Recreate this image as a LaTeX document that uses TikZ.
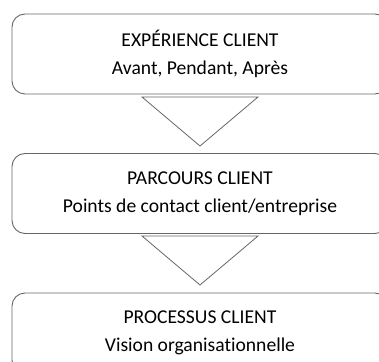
\documentclass[tikz,border=0pt]{standalone}
\usepackage{fontspec}
\setmainfont{Carlito}[Ligatures=NoCommon]
\usepackage{tikz}
\usetikzlibrary{positioning}
\tikzset{
  etape/.style={draw=black!60, line width=0.9pt, rounded corners=13pt,
    minimum width=376pt, minimum height=80pt, inner sep=0pt, align=center,
    font=\fontsize{19.6}{28}\selectfont, text=black},
  entonnoir/.style={draw=black!60, line width=0.8pt}
}
\begin{document}
\begin{tikzpicture}[x=1pt,y=1pt]
\path[use as bounding box, clip] (0,0) rectangle (379,361);
% les trois niveaux
\node[etape] (experience) at (200,307) {EXPÉRIENCE CLIENT\\Avant, Pendant, Après};
\node[etape] (parcours) at (200,167.5) {PARCOURS CLIENT\\Points de contact client/entreprise};
\node[etape] (processus) at (200,28) {PROCESSUS CLIENT\\Vision organisationnelle};
% triangles entre les niveaux
\coordinate (G1) at (142,264);
\coordinate (D1) at (258,264);
\coordinate (P1) at (200,215);
\draw[entonnoir] (G1)--(D1)--(P1)--cycle;
\coordinate (G2) at (142,125);
\coordinate (D2) at (258,125);
\coordinate (P2) at (200,76);
\draw[entonnoir] (G2)--(D2)--(P2)--cycle;
\end{tikzpicture}
\end{document}
